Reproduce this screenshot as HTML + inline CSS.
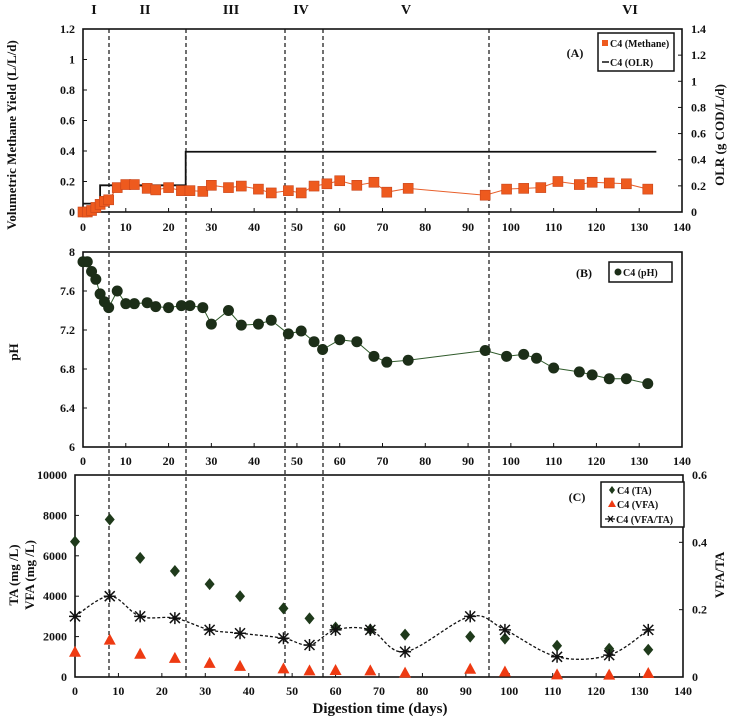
<!DOCTYPE html>
<html><head><meta charset="utf-8"><style>
body{margin:0;background:#fff;}
svg{display:block;font-family:"Liberation Serif",serif;font-weight:bold;}
</style></head><body>
<svg id="fig" width="736" height="718" viewBox="0 0 736 718" xmlns="http://www.w3.org/2000/svg"></svg>
<script>
// Panel A data
const methaneDays=[0,1,2,3,4,5,6,8,10,12,15,17,20,23,25,28,30,34,37,41,44,48,51,54,57,60,64,68,71,76,94,99,103,107,111,116,119,123,127,132];
const methaneYield=[0,0,0.01,0.03,0.05,0.07,0.08,0.16,0.18,0.18,0.155,0.145,0.16,0.14,0.14,0.135,0.175,0.16,0.17,0.15,0.125,0.14,0.125,0.17,0.185,0.205,0.175,0.195,0.13,0.155,0.11,0.15,0.155,0.16,0.2,0.18,0.195,0.19,0.185,0.15];
const olrDays=[0,4,4,24,24,134];
const olrValues=[0.055,0.055,0.175,0.175,0.395,0.395];
// Panel B data
const phDays=[0,1,2,3,4,5,6,8,10,12,15,17,20,23,25,28,30,34,37,41,44,48,51,54,56,60,64,68,71,76,94,99,103,106,110,116,119,123,127,132];
const phValues=[7.9,7.9,7.8,7.72,7.57,7.49,7.43,7.6,7.47,7.47,7.48,7.44,7.43,7.45,7.45,7.43,7.26,7.4,7.25,7.26,7.3,7.16,7.19,7.08,7.0,7.1,7.08,6.93,6.87,6.89,6.99,6.93,6.95,6.91,6.81,6.77,6.74,6.7,6.7,6.65];
// Panel C data
const cDays=[0,8,15,23,31,38,48,54,60,68,76,91,99,111,123,132];
const taValues=[6700,7800,5900,5250,4600,4000,3400,2900,2450,2350,2100,2000,1900,1550,1400,1350];
const vfaValues=[1200,1800,1100,900,650,500,380,280,300,280,170,360,220,80,70,150];
const ratioValues=[0.18,0.24,0.18,0.175,0.14,0.13,0.115,0.095,0.14,0.14,0.075,0.18,0.14,0.06,0.065,0.14];
const xTicks=[0,10,20,30,40,50,60,70,80,90,100,110,120,130,140];
const aLeftTicks=[0,0.2,0.4,0.6,0.8,1,1.2];
const aRightTicks=[0,0.2,0.4,0.6,0.8,1,1.2,1.4];
const bTicks=[6,6.4,6.8,7.2,7.6,8];
const cLeftTicks=[0,2000,4000,6000,8000,10000];
const cRightTicks=[0,0.2,0.4,0.6];
const phaseDaysPx=[109,186,285,323,489];
const phaseLabels=["I","II","III","IV","V","VI"];
const phaseLabelX=[94,145,231,301,406,630];

const svg=document.getElementById('fig');
const NS='http://www.w3.org/2000/svg';
function el(tag,attrs,parent){const e=document.createElementNS(NS,tag);for(const k in attrs)e.setAttribute(k,attrs[k]);(parent||svg).appendChild(e);return e;}
function txt(x,y,s,size,anchor,rot){const t=el('text',{x:x,y:y,'font-size':size,'text-anchor':anchor||'middle',fill:'#111'});if(rot)t.setAttribute('transform','rotate(-90 '+x+' '+y+')');t.textContent=s;return t;}
function lin(d0,d1,r0,r1){return v=>r0+(v-d0)/(d1-d0)*(r1-r0);}

const A={x0:83,x1:682,y0:212,y1:29};
const B={x0:83,x1:682,y0:447,y1:252};
const C={x0:75,x1:683,y0:677,y1:475};
const ax=lin(0,140,A.x0,A.x1), ay=lin(0,1.2,A.y0,A.y1), ayr=lin(0,1.4,A.y0,A.y1);
const bx=lin(0,140,B.x0,B.x1), by=lin(6,8,B.y0,B.y1);
const cx=lin(0,140,C.x0,C.x1), cy=lin(0,10000,C.y0,C.y1), cyr=lin(0,0.6,C.y0,C.y1);

function frame(P,name,sx,yl,ylTicks,yr,yrTicks,labY){
  const g=el('g',{});
  
  
  el('rect',{x:P.x0,y:P.y1,width:P.x1-P.x0,height:P.y0-P.y1,fill:'none',stroke:'#111','stroke-width':1.6},g);
  xTicks.forEach(v=>{const x=sx(v);el('line',{x1:x,x2:x,y1:P.y0,y2:P.y0-4,stroke:'#111'},g);const t=txt(x,labY,String(v),12);g.appendChild(t);});
  ylTicks.forEach(v=>{const y=yl(v);el('line',{x1:P.x0,x2:P.x0+4,y1:y,y2:y,stroke:'#111'},g);const t=txt(P.x0-8,y+4,String(v),12,'end');g.appendChild(t);});
  if(yr)yrTicks.forEach(v=>{const y=yr(v);el('line',{x1:P.x1,x2:P.x1-4,y1:y,y2:y,stroke:'#111'},g);const t=txt(P.x1+9,y+4,String(v),12,'start');g.appendChild(t);});
  return g;
}
frame(A,'panel-a-axes',ax,ay,aLeftTicks,ayr,aRightTicks,231);
frame(B,'panel-b-axes',bx,by,bTicks,null,null,465);
frame(C,'panel-c-axes',cx,cy,cLeftTicks,cyr,cRightTicks,695);

phaseDaysPx.forEach((x,i)=>{const l=el('line',{x1:x,x2:x,y1:A.y1,y2:C.y0,stroke:'#111','stroke-width':1.2,'stroke-dasharray':'4,3'});
});
phaseLabels.forEach((s,i)=>{const t=txt(phaseLabelX[i],14,s,14);});

let d=olrDays.map((v,i)=>(i?'L':'M')+ax(v)+' '+ay(olrValues[i])).join(' ');
let p=el('path',{d:d,fill:'none',stroke:'#111','stroke-width':1.8});

d=methaneDays.map((v,i)=>(i?'L':'M')+ax(v)+' '+ay(methaneYield[i])).join(' ');
p=el('path',{d:d,fill:'none',stroke:'#e8602c','stroke-width':1});

methaneDays.forEach((v,i)=>{const r=el('rect',{x:ax(v)-5,y:ay(methaneYield[i])-5,width:10,height:10,fill:'#ee5a1e',stroke:'#c8441a','stroke-width':0.6});
});

d=phDays.map((v,i)=>(i?'L':'M')+bx(v)+' '+by(phValues[i])).join(' ');
p=el('path',{d:d,fill:'none',stroke:'#2f5a2a','stroke-width':1});

phDays.forEach((v,i)=>{const c=el('circle',{cx:bx(v),cy:by(phValues[i]),r:5.5,fill:'#1c2e18'});
});

const pts=cDays.map((v,i)=>[cx(v),cyr(ratioValues[i])]);
d='M'+pts[0][0]+' '+pts[0][1];
for(let i=0;i<pts.length-1;i++){const p0=pts[Math.max(i-1,0)],p1=pts[i],p2=pts[i+1],p3=pts[Math.min(i+2,pts.length-1)];
d+=' C'+(p1[0]+(p2[0]-p0[0])/6)+' '+(p1[1]+(p2[1]-p0[1])/6)+' '+(p2[0]-(p3[0]-p1[0])/6)+' '+(p2[1]-(p3[1]-p1[1])/6)+' '+p2[0]+' '+p2[1];}
p=el('path',{d:d,fill:'none',stroke:'#111','stroke-width':1.3,'stroke-dasharray':'3,2'});

cDays.forEach((v,i)=>{
  const x=cx(v);
  let y=cy(taValues[i]);
  const dm=el('path',{d:'M'+x+' '+(y-6)+' L'+(x+5)+' '+y+' L'+x+' '+(y+6)+' L'+(x-5)+' '+y+' Z',fill:'#1f3a1b'});
  
  y=cy(vfaValues[i]);
  const tr=el('path',{d:'M'+x+' '+(y-7)+' L'+(x+6)+' '+(y+4)+' L'+(x-6)+' '+(y+4)+' Z',fill:'#ee3a12'});
  
  y=cyr(ratioValues[i]);
  const st=el('path',{d:'M'+(x-6)+' '+y+' L'+(x+6)+' '+y+' M'+(x-5)+' '+(y-5)+' L'+(x+5)+' '+(y+5)+' M'+(x+5)+' '+(y-5)+' L'+(x-5)+' '+(y+5)+' M'+x+' '+(y-6)+' L'+x+' '+(y+6),stroke:'#111','stroke-width':1.5});
  
});

let t=txt(16,135,'Volumetric Methane Yield (L/L/d)',13,'middle',true);
t=txt(724,135,'OLR (g COD/L/d)',13,'middle',true);
t=txt(18,352,'pH',13,'middle',true);
t=txt(18,575,'TA (mg /L)',13,'middle',true);
t=txt(34,575,'VFA (mg /L)',13,'middle',true);
t=txt(724,575,'VFA/TA',13,'middle',true);
t=txt(380,713,'Digestion time (days)',15);

function legendBox(x,y,w,h,name){const r=el('rect',{x:x,y:y,width:w,height:h,fill:'#fff',stroke:'#111','stroke-width':1.5});}
legendBox(598,33,76,38,'legend-a');
el('rect',{x:602,y:40,width:6,height:6,fill:'#ee5a1e'});
t=txt(610,47,'C4 (Methane)',10,'start');
el('line',{x1:602,x2:609,y1:62,y2:62,stroke:'#111','stroke-width':1.5});
t=txt(610,66,'C4 (OLR)',10,'start');
t=txt(575,57,'(A)',12);

legendBox(609,262,63,20,'legend-b');
el('circle',{cx:618,cy:272,r:3.5,fill:'#1c2e18'});
t=txt(623,276,'C4 (pH)',10,'start');
t=txt(584,277,'(B)',12);

legendBox(601,482,83,45,'legend-c');
el('path',{d:'M612 486 L615 490 L612 494 L609 490 Z',fill:'#1f3a1b'});
t=txt(617,494,'C4 (TA)',10,'start');
el('path',{d:'M612 500 L616 507 L608 507 Z',fill:'#ee3a12'});
t=txt(617,508,'C4 (VFA)',10,'start');
el('path',{d:'M605 519 L615 519 M608 516 L613 522 M613 516 L608 522',stroke:'#111','stroke-width':1.3});
t=txt(616,523,'C4 (VFA/TA)',10,'start');
t=txt(577,501,'(C)',12);
</script>
</body></html>
